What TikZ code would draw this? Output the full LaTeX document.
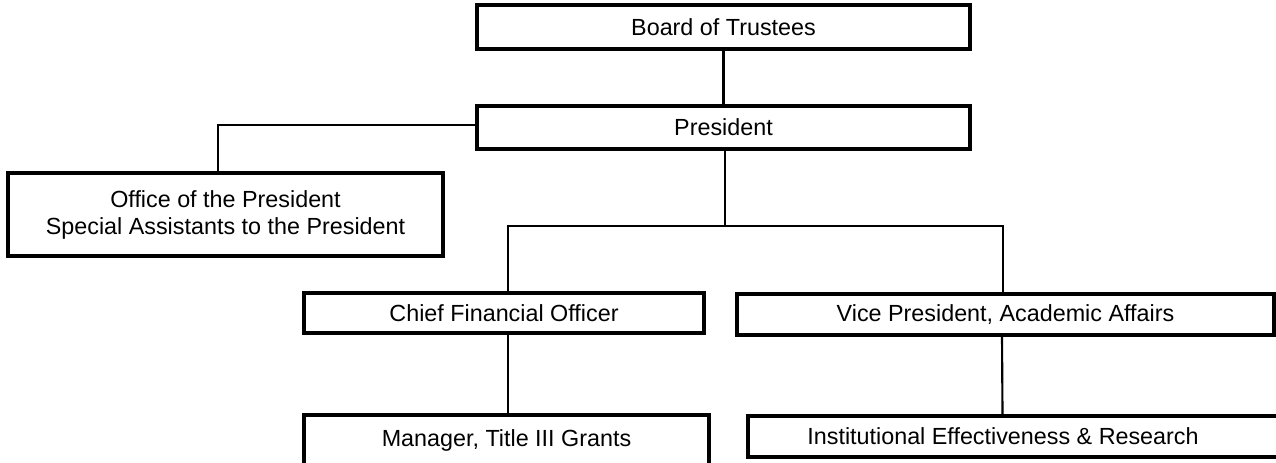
\documentclass[tikz,border=0pt]{standalone}
\usepackage{fontspec}
\setmainfont{Liberation Sans}
\usetikzlibrary{calc}
\begin{document}
\begin{tikzpicture}[x=0.75pt,y=-0.75pt,
  box/.style={draw=black,line width=2.6pt,fill=white,inner sep=0pt,align=center,
    font=\fontsize{17.5}{20.25}\selectfont},
  link/.style={draw=black,line width=1.6pt}]
\useasboundingbox (0,0) rectangle (1276,463);
\clip (0,0) rectangle (1276,463);
\node[box,minimum width=369.75pt,minimum height=33pt] (board) at (723.5,27) {Board of Trustees};
\node[box,minimum width=369.75pt,minimum height=32.25pt] (pres) at (723.5,127.5) {President};
\node[box,minimum width=326.25pt,minimum height=62.25pt] (office) at (225.5,214.5) {Office of the President\\Special Assistants to the President};
\node[box,minimum width=300pt,minimum height=30pt] (cfo) at (504,313) {Chief Financial Officer};
\node[box,minimum width=402.75pt,minimum height=30.75pt] (vp) at (1005.5,314.5) {Vice President, Academic Affairs};
\node[box,minimum width=303.75pt,minimum height=37.5pt] (mgr) at (506.5,440) {\raisebox{2pt}{Manager, Title III Grants}};
\node[box,minimum width=399pt,minimum height=30.75pt] (ier) at (1014,436.5) {\hspace*{-16.5pt}Institutional Effectiveness \& Research};
\coordinate (hub) at (725,226);
\draw[link] (board.south) -- (pres.north);
\draw[link] ($(pres.west)+(0,-2.5)$) -| ($(office.north)+(-7.5,0)$);
\draw[link] (pres.south -| hub) -- (hub);
\draw[link] ($(cfo.north)+(4,0)$) |- (hub) -| ($(vp.north)+(-2.5,0)$);
\draw[link] ($(cfo.south)+(4,0)$) -- ($(mgr.north)+(1.5,0)$);
\draw[link] ($(vp.south)+(-3.5,0)$) -- ($(ier.north)+(-11.5,0)$);
\end{tikzpicture}
\end{document}
